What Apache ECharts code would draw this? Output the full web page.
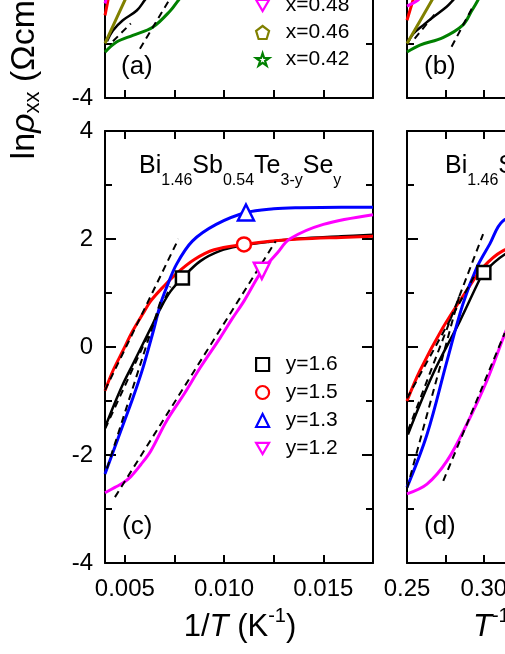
<!DOCTYPE html>
<html>
<head>
<meta charset="utf-8">
<script src="https://cdn.jsdelivr.net/npm/echarts@6/dist/echarts.min.js"></script>
<style>
html,body{margin:0;padding:0;background:#fff;}
#paint{width:505px;height:654px;}
</style>
</head>
<body>
<div id="paint"></div>
<script>
// ---- panel (c): ln(rho) vs 1/T ----
var c_y16 = [[0.0040,-1.49],[0.0044,-1.12],[0.0049,-0.69],[0.0054,-0.32],[0.0059,0.05],[0.0064,0.42],[0.0068,0.72],[0.0073,1.03],[0.0079,1.28],[0.0088,1.59],[0.0098,1.78],[0.0108,1.87],[0.0123,1.95],[0.0138,2.01],[0.0159,2.05],[0.0175,2.08]];
var c_y15 = [[0.0040,-0.81],[0.0044,-0.44],[0.0049,-0.07],[0.0054,0.30],[0.0059,0.61],[0.0063,0.85],[0.0069,1.10],[0.0076,1.36],[0.0085,1.62],[0.0095,1.80],[0.0110,1.90],[0.0123,1.96],[0.0138,2.00],[0.0159,2.03],[0.0175,2.05]];
var c_y13 = [[0.0040,-2.35],[0.0044,-1.95],[0.0049,-1.45],[0.0054,-0.95],[0.0059,-0.40],[0.0064,0.25],[0.0068,0.80],[0.0071,1.10],[0.0076,1.53],[0.0084,1.96],[0.0096,2.27],[0.0111,2.49],[0.0125,2.56],[0.0138,2.58],[0.0159,2.59],[0.0175,2.59]];
var c_y12 = [[0.0040,-2.70],[0.0045,-2.60],[0.0049,-2.52],[0.0053,-2.40],[0.0058,-2.18],[0.0063,-1.93],[0.0071,-1.37],[0.0080,-0.86],[0.0088,-0.38],[0.0098,0.17],[0.0104,0.52],[0.0110,0.85],[0.0119,1.41],[0.0127,1.75],[0.0133,2.00],[0.0150,2.27],[0.0175,2.45]];
var c_mark16 = [[0.0079,1.28]];
var c_mark15 = [[0.0110,1.90]];
var c_mark13 = [[0.0111,2.49]];
var c_mark12 = [[0.0119,1.41]];
var c_fit16 = [[0.0040,-1.52],[0.0073,1.12]];
var c_fit15 = [[0.0040,-0.80],[0.0077,2.00]];
var c_fit13 = [[0.0041,-2.25],[0.0068,0.85]];
var c_fit12 = [[0.0045,-2.78],[0.0126,1.96]];

// ---- panel (d): ln(rho) vs T^-1/4 ----
var d_y16 = [[0.2506,-1.62],[0.2669,-0.50],[0.2844,0.48],[0.2974,1.26],[0.3000,1.38],[0.3123,1.69],[0.3300,1.93],[0.3600,2.03]];
var d_y15 = [[0.2500,-1.00],[0.2584,-0.44],[0.2734,0.36],[0.2887,1.04],[0.2993,1.47],[0.3123,1.78],[0.3300,1.95],[0.3600,2.02]];
var d_y13 = [[0.2500,-2.60],[0.2630,-1.62],[0.2760,-0.26],[0.2863,0.79],[0.2954,1.47],[0.3039,1.91],[0.3123,2.33],[0.3300,2.52],[0.3600,2.58]];
var d_y12 = [[0.2500,-2.72],[0.2630,-2.54],[0.2760,-2.11],[0.2889,-1.43],[0.3019,-0.63],[0.3136,0.24],[0.3300,1.41],[0.3500,2.05],[0.3800,2.35]];
var d_mark16 = [[0.3000,1.38]];
var d_mark15 = [[0.3236,1.90]];
var d_mark13 = [[0.3246,2.49]];
var d_mark12 = [[0.3300,1.41]];
var d_fit16 = [[0.2506,-1.55],[0.2995,2.09]];
var d_fit15 = [[0.2500,-0.95],[0.2935,1.30]];
var d_fit13 = [[0.2500,-2.62],[0.2840,0.95]];
var d_fit12 = [[0.2736,-2.48],[0.3136,0.26]];

// ---- panels (a),(b): only the lower part is in view ----
var a_magenta = [[0.0040,-2.25],[0.0041,-2.10],[0.0042,-1.90]];
var a_red = [[0.0040,-2.47],[0.00415,-2.19],[0.0043,-1.90]];
var a_olive = [[0.0040,-2.99],[0.0050,-2.19],[0.0055,-1.80]];
var a_black = [[0.0041,-2.95],[0.0044,-2.75],[0.0049,-2.56],[0.0056,-2.38],[0.0060,-2.19],[0.0065,-1.95]];
var a_green = [[0.0040,-3.15],[0.0046,-2.96],[0.0054,-2.84],[0.0064,-2.69],[0.0073,-2.38],[0.0077,-2.19],[0.0085,-1.85]];
var a_fitA = [[0.0044,-2.95],[0.0053,-2.62]];
var a_fitB = [[0.00576,-3.09],[0.00737,-2.10]];
var b_magenta = [[0.2500,-2.30],[0.2565,-2.20],[0.2600,-2.10]];
var b_red = [[0.2500,-2.56],[0.2539,-2.19],[0.2560,-2.00]];
var b_olive = [[0.2500,-2.99],[0.2662,-2.19],[0.2700,-2.00]];
var b_black = [[0.2508,-2.96],[0.2541,-2.81],[0.2606,-2.65],[0.2671,-2.50],[0.2758,-2.31],[0.2799,-2.19],[0.2850,-2.05]];
var b_green = [[0.2500,-3.15],[0.2584,-3.02],[0.2734,-2.88],[0.2863,-2.65],[0.2922,-2.38],[0.2961,-2.19],[0.3000,-1.95]];
var b_fitA = [[0.2790,-3.05],[0.2930,-2.30]];
var b_fitB = [[0.2550,-2.90],[0.2680,-2.45]];

// ticks / labels
var invT_ticks = [0.005,0.0075,0.010,0.0125,0.015];
var invT_labels = [0.005,0.010,0.015];
var t4_ticks = [0.275,0.300,0.325,0.350,0.375,0.400];
var t4_labels = [0.25,0.30,0.35,0.40];
var legendC = ['y=1.6','y=1.5','y=1.3','y=1.2'];
var legendA = ['x=0.48','x=0.46','x=0.42'];

var FONT = 'Liberation Sans, Arial, Helvetica, sans-serif';
var BLACK = '#000000', RED = '#ff0000', BLUE = '#0000ff', MAGENTA = '#ff00ff', OLIVE = '#808000', GREEN = '#008000';
var DOWN_TRI = 'path://M0,0 L10,0 L5,8.66 Z';
var PENTAGON = 'path://M5,0 L10,3.8 L8.1,10 L1.9,10 L0,3.8 Z';
var STAR = 'path://M5,0 L6.2,3.6 L10,3.6 L6.9,5.9 L8.1,9.5 L5,7.3 L1.9,9.5 L3.1,5.9 L0,3.6 L3.8,3.6 Z';

var chart = echarts.init(document.getElementById('paint'));

var grids = [
    {left:105, top:-334, width:268, height:432, outerBoundsMode:'none'},  // (a)
    {left:407, top:-334, width:269, height:432, outerBoundsMode:'none'},  // (b)
    {left:105, top:131, width:268, height:432, outerBoundsMode:'none'},   // (c)
    {left:407, top:131, width:269, height:432, outerBoundsMode:'none'}    // (d)
];
var xAxes = [], yAxes = [];

function addAxes(gi, xmin, xmax, ticks, labels, digits, showX, showY){
    var axLine = {show:true, onZero:false, lineStyle:{color:BLACK, width:2}};
    var xTick = {show:true, inside:true, length:8, customValues:ticks, lineStyle:{color:BLACK, width:2}};
    xAxes.push({type:'value', gridIndex:gi, position:'bottom', min:xmin, max:xmax,
        axisLine:axLine, axisTick:xTick, splitLine:{show:false},
        axisLabel:{show:showX, customValues:labels, color:BLACK, fontSize:24, fontFamily:FONT, margin:14,
            formatter:function(v){ return v.toFixed(digits); }}});
    xAxes.push({type:'value', gridIndex:gi, position:'top', min:xmin, max:xmax,
        axisLine:axLine, axisTick:xTick, splitLine:{show:false}, axisLabel:{show:false}});
    var yTick = {show:true, inside:true, length:11, lineStyle:{color:BLACK, width:2}};
    var yMinor = {show:true, splitNumber:2, length:7, lineStyle:{color:BLACK, width:2}};
    yAxes.push({type:'value', gridIndex:gi, position:'left', min:-4, max:4, interval:2,
        axisLine:axLine, axisTick:yTick, minorTick:yMinor, splitLine:{show:false},
        axisLabel:{show:showY, color:BLACK, fontSize:24, fontFamily:FONT, margin:12}});
    yAxes.push({type:'value', gridIndex:gi, position:'right', min:-4, max:4, interval:2,
        axisLine:axLine, axisTick:yTick, minorTick:yMinor, splitLine:{show:false}, axisLabel:{show:false}});
}
addAxes(0, 0.004, 0.0175, invT_ticks, invT_labels, 3, false, true);
addAxes(1, 0.25, 0.425, t4_ticks, t4_labels, 2, false, false);
addAxes(2, 0.004, 0.0175, invT_ticks, invT_labels, 3, true, true);
addAxes(3, 0.25, 0.425, t4_ticks, t4_labels, 2, true, false);

var series = [];
function curve(gi, data, color, w){
    series.push({type:'line', xAxisIndex:2*gi, yAxisIndex:2*gi, data:data, smooth:0.35,
        showSymbol:false, symbol:'none', lineStyle:{color:color, width:w || 3}, itemStyle:{color:color},
        silent:true, z:2});
}
function fit(gi, data){
    series.push({type:'line', xAxisIndex:2*gi, yAxisIndex:2*gi, data:data,
        showSymbol:false, symbol:'none', lineStyle:{color:BLACK, width:2, type:[7,5]},
        silent:true, z:3});
}
function marker(gi, name, data, sym, color, size){
    series.push({type:'scatter', name:name, xAxisIndex:2*gi, yAxisIndex:2*gi, data:data,
        symbol:sym, symbolSize:size,
        itemStyle:{color:'#ffffff', borderColor:color, borderWidth:2.5, opacity:1}, silent:true, z:5});
}

// (a)
curve(0, a_green, GREEN); curve(0, a_black, BLACK, 2.5); curve(0, a_olive, OLIVE);
curve(0, a_red, RED); curve(0, a_magenta, MAGENTA);
fit(0, a_fitA); fit(0, a_fitB);
marker(0, 'x=0.48', [], DOWN_TRI, MAGENTA, 13);
marker(0, 'x=0.46', [], PENTAGON, OLIVE, 13);
marker(0, 'x=0.42', [], STAR, GREEN, 13);
// (b)
curve(1, b_green, GREEN); curve(1, b_black, BLACK, 2.5); curve(1, b_olive, OLIVE);
curve(1, b_red, RED); curve(1, b_magenta, MAGENTA);
fit(1, b_fitA); fit(1, b_fitB);
// (c)
curve(2, c_y16, BLACK, 2.5); curve(2, c_y15, RED); curve(2, c_y13, BLUE); curve(2, c_y12, MAGENTA);
fit(2, c_fit16); fit(2, c_fit15); fit(2, c_fit13); fit(2, c_fit12);
marker(2, 'y=1.6', c_mark16, 'rect', BLACK, 13);
marker(2, 'y=1.5', c_mark15, 'circle', RED, 14);
marker(2, 'y=1.3', c_mark13, 'triangle', BLUE, 16);
marker(2, 'y=1.2', c_mark12, DOWN_TRI, MAGENTA, 16);
// (d)
curve(3, d_y16, BLACK, 2.5); curve(3, d_y15, RED); curve(3, d_y13, BLUE); curve(3, d_y12, MAGENTA);
fit(3, d_fit16); fit(3, d_fit15); fit(3, d_fit13); fit(3, d_fit12);
marker(3, 'd16', d_mark16, 'rect', BLACK, 13);
marker(3, 'd15', d_mark15, 'circle', RED, 14);
marker(3, 'd13', d_mark13, 'triangle', BLUE, 16);
marker(3, 'd12', d_mark12, DOWN_TRI, MAGENTA, 16);

function legendAt(names, left, top, gap){
    return {data:names, orient:'vertical', left:left, top:top, itemWidth:13, itemHeight:13, itemGap:gap,
        selectedMode:false, padding:0,
        itemStyle:{borderWidth:2.2},
        textStyle:{color:BLACK, fontSize:21, fontFamily:FONT},
        formatter:function(n){ return '  ' + n; }};
}

var titleRich = {
    s:{fontSize:16, fontFamily:FONT, fill:BLACK, padding:[30,0,0,0]}
};
function panelTitle(x){
    return {type:'text', x:x, y:166, silent:true, style:{
        text:'Bi{s|1.46}Sb{s|0.54}Te{s|3-y}Se{s|y}', rich:titleRich,
        font:'25px ' + FONT, fill:BLACK, align:'left', verticalAlign:'middle'}};
}
function panelLabel(txt, x, y){
    return {type:'text', x:x, y:y, silent:true, style:{text:txt, font:'26px ' + FONT, fill:BLACK,
        align:'left', verticalAlign:'middle'}};
}

var option = {
    animation:false,
    backgroundColor:'#ffffff',
    grid:grids,
    xAxis:xAxes,
    yAxis:yAxes,
    legend:[legendAt(legendA, 255, -5, 6), legendAt(legendC, 255, 354, 7)],
    series:series,
    graphic:[
        panelTitle(139), panelTitle(445),
        panelLabel('(a)', 121, 67), panelLabel('(b)', 424, 67),
        panelLabel('(c)', 122, 527), panelLabel('(d)', 424, 527),
        {type:'text', x:25, y:74, rotation:Math.PI/2, silent:true, style:{
            text:'ln{it|ρ}{sub|xx} (Ωcm)',
            font:'34px ' + FONT, fill:BLACK, align:'center', verticalAlign:'middle',
            rich:{it:{fontStyle:'italic', fontSize:34, fontFamily:FONT, fill:BLACK},
                  sub:{fontSize:22, fontFamily:FONT, fill:BLACK, padding:[16,0,0,0]}}}},
        {type:'text', x:240, y:627, silent:true, style:{
            text:'1/{it|T} (K{sup|-1})',
            font:'31px ' + FONT, fill:BLACK, align:'center', verticalAlign:'middle',
            rich:{it:{fontStyle:'italic', fontSize:31, fontFamily:FONT, fill:BLACK},
                  sup:{fontSize:20, fontFamily:FONT, fill:BLACK, padding:[0,0,22,0]}}}},
        {type:'text', x:473, y:627, silent:true, style:{
            text:'{it|T}{sup|-1/4} (K{sup|-1/4})',
            font:'31px ' + FONT, fill:BLACK, align:'left', verticalAlign:'middle',
            rich:{it:{fontStyle:'italic', fontSize:31, fontFamily:FONT, fill:BLACK},
                  sup:{fontSize:20, fontFamily:FONT, fill:BLACK, padding:[0,0,22,0]}}}}
    ]
};
chart.setOption(option);
</script>
</body>
</html>
